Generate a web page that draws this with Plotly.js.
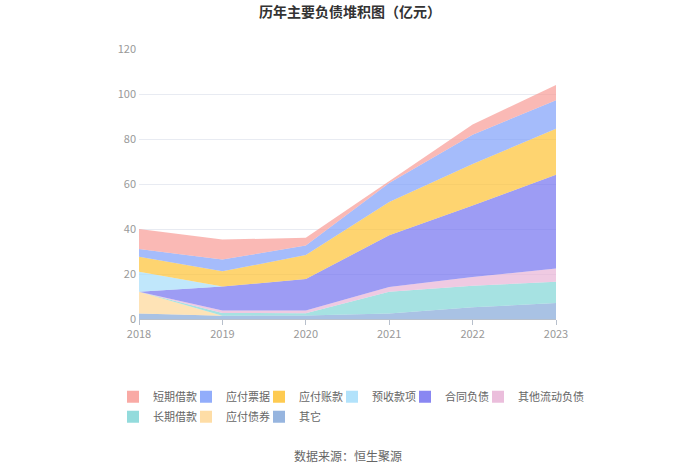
<!DOCTYPE html>
<html>
<head>
<meta charset="utf-8">
<script src="https://cdn.plot.ly/plotly-3.0.1.min.js"></script>
<style>html,body{margin:0;padding:0;background:#fff;}#chart{width:700px;height:473px;}</style>
</head>
<body>
<div id="chart"></div>
<script>
const years = ['2018', '2019', '2020', '2021', '2022', '2023'];
const qita = [2.4, 1.5, 1.6, 2.4, 5.2, 7.1];            // 其它
const yingfuZhaiquan = [9.7, 0, 0, 0, 0, 0];           // 应付债券
const changqiJiekuan = [0, 1.2, 1.0, 9.7, 9.6, 9.5];   // 长期借款
const qitaLiudong = [0, 1.1, 1.2, 2.1, 3.9, 5.8];      // 其他流动负债
const hetongFuzhai = [0, 10.6, 14.0, 23.0, 31.8, 41.7];// 合同负债
const yushouKuanxiang = [8.9, 0, 0, 0, 0, 0];          // 预收款项
const yingfuZhangkuan = [6.7, 6.8, 10.6, 14.8, 18.4, 20.5]; // 应付账款
const yingfuPiaoju = [3.4, 5.2, 4.3, 8.4, 13.0, 12.6]; // 应付票据
const duanqiJiekuan = [8.9, 8.9, 3.4, 0.8, 4.5, 6.8];  // 短期借款

// stacking order: bottom to top
const seriesNames = ['其它', '应付债券', '长期借款', '其他流动负债', '合同负债', '预收款项', '应付账款', '应付票据', '短期借款'];
const seriesValues = [qita, yingfuZhaiquan, changqiJiekuan, qitaLiudong, hetongFuzhai, yushouKuanxiang, yingfuZhangkuan, yingfuPiaoju, duanqiJiekuan];
const seriesColors = ['133,168,217', '254,215,151', '128,213,214', '232,179,214', '116,114,240', '165,221,250', '254,194,51', '127,159,250', '248,155,149'];
// legend reading order
const legendOrder = ['短期借款', '应付票据', '应付账款', '预收款项', '合同负债', '其他流动负债', '长期借款', '应付债券', '其它'];

const areaTraces = seriesNames.map((name, i) => ({
  type: 'scatter',
  mode: 'lines',
  name: name,
  x: years,
  y: seriesValues[i],
  stackgroup: 'one',
  line: {width: 0, color: 'rgb(' + seriesColors[i] + ')'},
  fillcolor: 'rgba(' + seriesColors[i] + ',0.7)',
  showlegend: false,
  hoverinfo: 'x+y+name'
}));

const legendId = k => (k === 0 ? 'legend' : 'legend' + (k + 1));

// legend swatches (no data drawn)
const legendTraces = legendOrder.map((name, k) => {
  const i = seriesNames.indexOf(name);
  return {
    type: 'scatter',
    mode: 'markers',
    name: name,
    x: [null],
    y: [null],
    marker: {symbol: 'square', size: 12, color: 'rgba(' + seriesColors[i] + ',0.85)'},
    showlegend: true,
    legend: legendId(k),
    hoverinfo: 'skip'
  };
});

const font = '"Noto Sans CJK SC", "Noto Sans", sans-serif';

const layout = {
  width: 700, height: 473,
  margin: {l: 139, r: 144, t: 49, b: 154},
  paper_bgcolor: '#fff', plot_bgcolor: '#fff',
  font: {family: font, color: '#999'},
  title: {text: '<b>历年主要负债堆积图（亿元）</b>', x: 0.5, xref: 'container', y: 0.975, yref: 'container', yanchor: 'middle',
          font: {family: font, size: 14, color: '#333'}},
  xaxis: {type: 'category', range: [0, 5], showgrid: false, showline: true, linecolor: '#b8c0cc', linewidth: 1,
          ticks: 'outside', ticklen: 5, tickcolor: '#b8c0cc', tickfont: {size: 11, color: '#999'}, zeroline: false, fixedrange: true},
  yaxis: {range: [0, 120], dtick: 20, showgrid: true, gridcolor: '#e8ebf2', showline: false, zeroline: false,
          tickfont: {size: 11, color: '#999'}, ticklabelstandoff: 2, fixedrange: true},
  annotations: [{text: '数据来源：恒生聚源', xref: 'paper', yref: 'paper', x: 0.5, y: -0.507, showarrow: false,
                 xanchor: 'center', yanchor: 'middle', font: {family: font, size: 12, color: '#666'}}],
  showlegend: true
};

legendOrder.forEach((name, k) => {
  const col = k % 6, row = Math.floor(k / 6);
  const px = 123 + col * 73;
  layout[legendId(k)] = {
    orientation: 'h', xanchor: 'left', yanchor: 'middle',
    x: (px - 139) / 417, y: row === 0 ? -0.288 : -0.362,
    font: {family: font, size: 11, color: '#666'},
    itemwidth: 30, indentation: -10, bgcolor: 'rgba(0,0,0,0)'
  };
});

Plotly.newPlot('chart', areaTraces.concat(legendTraces), layout, {displayModeBar: false, staticPlot: true});
</script>
</body>
</html>
